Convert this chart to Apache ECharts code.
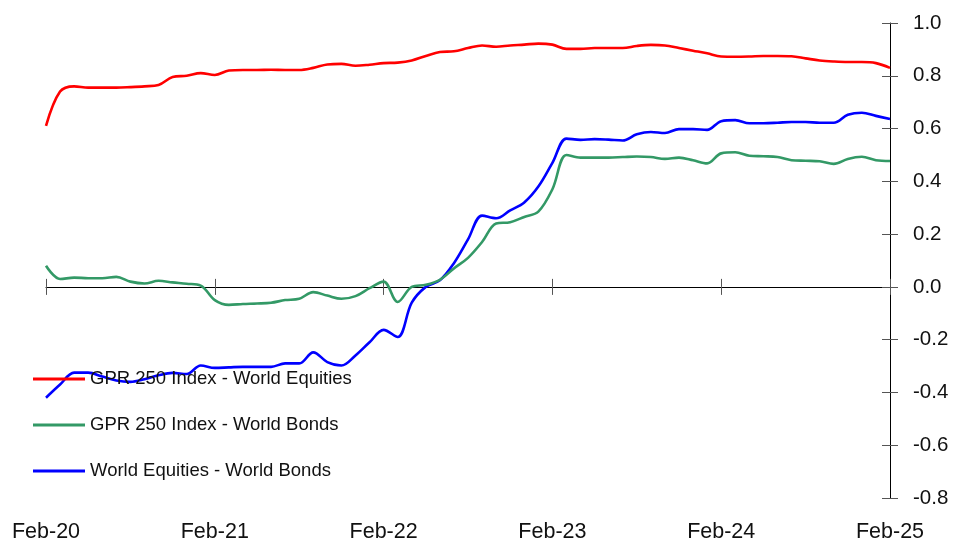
<!DOCTYPE html>
<html>
<head>
<meta charset="utf-8">
<script src="https://cdn.jsdelivr.net/npm/echarts@6/dist/echarts.min.js"></script>
<style>
html,body{margin:0;padding:0;background:#fff;}
#chart{width:964px;height:544px;}
</style>
</head>
<body>
<div id="chart"></div>
<script>
const months = ['Jan','Feb','Mar','Apr','May','Jun','Jul','Aug','Sep','Oct','Nov','Dec'];
const categories = [];
for (let i = 0; i <= 60; i++) {
  const m = (1 + i) % 12;
  const y = 20 + Math.floor((1 + i) / 12);
  categories.push(months[m] + '-' + y);
}
const seriesNames = ['GPR 250 Index - World Equities', 'GPR 250 Index - World Bonds', 'World Equities - World Bonds'];
const gprEquities = [
  0.61, 0.74, 0.76, 0.755, 0.755, 0.755, 0.757, 0.76, 0.765, 0.795,
  0.80, 0.81, 0.803, 0.82, 0.822, 0.822, 0.823, 0.822, 0.822, 0.83,
  0.843, 0.845, 0.838, 0.842, 0.848, 0.85, 0.858, 0.875, 0.89, 0.893,
  0.905, 0.915, 0.91, 0.915, 0.918, 0.922, 0.918, 0.902, 0.902, 0.905,
  0.905, 0.905, 0.913, 0.917, 0.915, 0.905, 0.895, 0.885, 0.873, 0.872,
  0.873, 0.875, 0.875, 0.874, 0.866, 0.858, 0.854, 0.852, 0.852, 0.848,
  0.83
];
const gprBonds = [
  0.08, 0.03, 0.035, 0.033, 0.033, 0.038, 0.02, 0.013, 0.023, 0.017,
  0.012, 0.005, -0.05, -0.068, -0.065, -0.063, -0.06, -0.05, -0.045, -0.02,
  -0.033, -0.045, -0.035, -0.005, 0.02, -0.057, 0.0, 0.008, 0.027, 0.07,
  0.11, 0.17, 0.24, 0.245, 0.265, 0.285, 0.37, 0.5, 0.49, 0.49,
  0.49, 0.492, 0.494, 0.492, 0.485, 0.49, 0.48, 0.468, 0.506, 0.51,
  0.497, 0.495, 0.492, 0.48, 0.478, 0.476, 0.466, 0.485, 0.493, 0.48,
  0.477
];
const equitiesBonds = [
  -0.42, -0.37, -0.325, -0.325, -0.34, -0.355, -0.36, -0.35, -0.335, -0.326,
  -0.33, -0.298, -0.307, -0.305, -0.303, -0.303, -0.303, -0.29, -0.29, -0.248,
  -0.285, -0.298, -0.26, -0.21, -0.163, -0.19, -0.06, 0.0, 0.025, 0.09,
  0.18, 0.27, 0.26, 0.29, 0.32, 0.38, 0.47, 0.562, 0.557, 0.56,
  0.558, 0.555, 0.578, 0.587, 0.583, 0.598, 0.598, 0.595, 0.628, 0.632,
  0.62, 0.62, 0.622, 0.625, 0.625, 0.622, 0.622, 0.652, 0.66, 0.648,
  0.636
];
const yTickMin = -0.8, yTickMax = 1.0, yTickStep = 0.2;
const colors = ['#FF0000', '#339966', '#0000FF'];

const FONT = "'Liberation Sans', Arial, sans-serif";
const chart = echarts.init(document.getElementById('chart'), null, {renderer: 'canvas'});

const baseX = {
  type: 'category', data: categories, boundaryGap: false,
  splitLine: {show: false}
};
const series = [gprEquities, gprBonds, equitiesBonds].map((d, k) => ({
  name: seriesNames[k], type: 'line', data: d, xAxisIndex: 0, yAxisIndex: 0,
  smooth: 0.35, showSymbol: false, symbol: 'none',
  lineStyle: {color: colors[k], width: 2.6}, itemStyle: {color: colors[k]},
  z: 3 + (2 - k)
}));

chart.setOption({
  animation: false,
  backgroundColor: '#fff',
  grid: {left: 46, right: 74, top: 23, bottom: 46, containLabel: false},
  legend: {
    orient: 'vertical', left: 33, top: 367, padding: 0,
    data: seriesNames.map((n, k) => ({name: n, icon: 'rect', itemStyle: {color: colors[k]}})),
    itemWidth: 52, itemHeight: 3, itemGap: 22,
    textStyle: {fontFamily: FONT, fontSize: 18.5, color: '#111', lineHeight: 24, padding: [0, 0, 0, 0]},
    selectedMode: false
  },
  xAxis: [
    Object.assign({}, baseX, {
      position: 'bottom',
      axisLine: {show: false, onZero: false},
      axisTick: {show: false},
      axisLabel: {show: true, interval: 11, margin: 23, fontFamily: FONT, fontSize: 21.5, color: '#111'}
    }),
    Object.assign({}, baseX, {
      position: 'bottom',
      axisLine: {show: true, onZero: true, lineStyle: {color: '#000', width: 1}},
      axisTick: {show: true, interval: 11, inside: true, length: 8, lineStyle: {color: '#555', width: 1}},
      axisLabel: {show: false}
    }),
    Object.assign({}, baseX, {
      position: 'bottom',
      axisLine: {show: true, onZero: true, lineStyle: {color: '#000', width: 0, opacity: 0}},
      axisTick: {show: true, interval: 11, inside: false, length: 8, lineStyle: {color: '#555', width: 1}},
      axisLabel: {show: false}
    })
  ],
  yAxis: [
    {
      type: 'value', position: 'right', min: yTickMin, max: yTickMax, interval: yTickStep,
      axisLine: {show: true, onZero: false, lineStyle: {color: '#000', width: 1}},
      axisTick: {show: true, inside: false, length: 8, lineStyle: {color: '#555', width: 1}},
      splitLine: {show: false},
      axisLabel: {margin: 23, fontFamily: FONT, fontSize: 20.5, color: '#111',
        formatter: v => v.toFixed(1)}
    },
    {
      type: 'value', position: 'right', min: yTickMin, max: yTickMax, interval: yTickStep,
      axisLine: {show: false, onZero: false},
      axisTick: {show: true, inside: true, length: 8, lineStyle: {color: '#555', width: 1}},
      splitLine: {show: false},
      axisLabel: {show: false}
    }
  ],
  series: series
});
</script>
</body>
</html>
